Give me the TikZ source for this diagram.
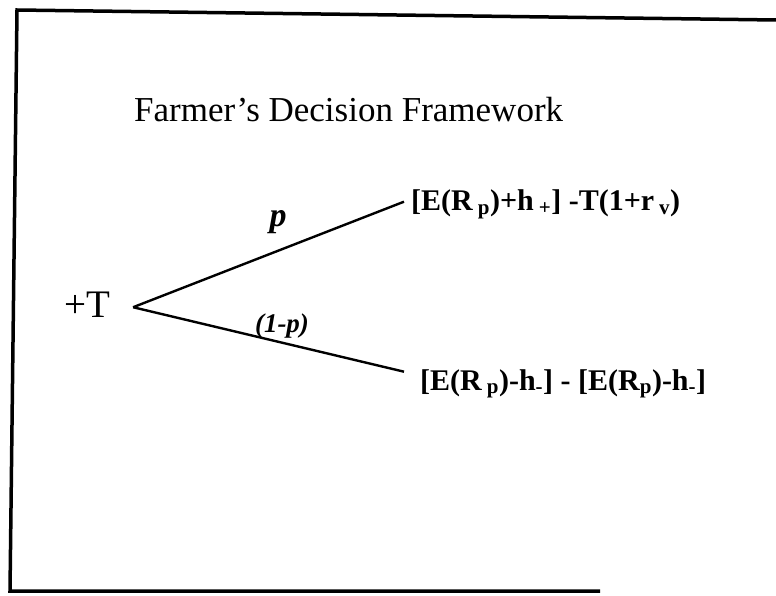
\documentclass[tikz,border=0pt]{standalone}
\usepackage{fontspec}
\setmainfont{Liberation Serif}
\usetikzlibrary{positioning}
\newcommand{\lo}[1]{\textsubscript{#1}}

\begin{document}
\begin{tikzpicture}[
  x=1pt,y=-1pt,
  ttl/.style  ={font=\fontsize{35}{40}\selectfont,inner sep=0pt},
  root/.style ={font=\fontsize{39}{44}\selectfont,inner ysep=0pt,inner xsep=23pt},
  pay/.style  ={font=\fontsize{30}{34}\selectfont\bfseries,inner sep=0pt},
  prob/.style ={font=\fontsize{27}{30}\selectfont\bfseries\itshape,inner sep=0pt},
  branch/.style={line width=2.4pt},
  frame/.style ={line width=3.5pt}]

\useasboundingbox (0,0) rectangle (776,596);

% ---------- frame ----------
\draw[frame] (776,20) -- (17,10) -- (10,591) -- (600,591);

% ---------- title ----------
\node[ttl,anchor=base west] (title) at (134,122) {Farmer’s Decision Framework};

% ---------- tree ----------
\node[root,anchor=base] (root) at (87,317) {+T};
\node[pay,anchor=base west] (up) at (411,211)
  {[E(R\,\lo{p})+h\,\lo{+}] -T(1+r\,\lo{v})};
\node[pay,anchor=base west] (down) at (420,390)
  {[E(R\,\lo{p})-h\lo{-}] - [E(R\lo{p})-h\lo{-}]};

\draw[branch] ([yshift=-3pt]root.east) -- ([xshift=-7pt,yshift=3pt]up.west);
\draw[branch] ([yshift=-3pt]root.east) -- ([xshift=-16pt,yshift=12pt]down.west);

\node[prob,font=\fontsize{34}{38}\selectfont\bfseries\itshape] (pup) at (278,222) {p};
\node[prob] (pdown) at (282,326) {(1-p)};

\end{tikzpicture}
\end{document}
